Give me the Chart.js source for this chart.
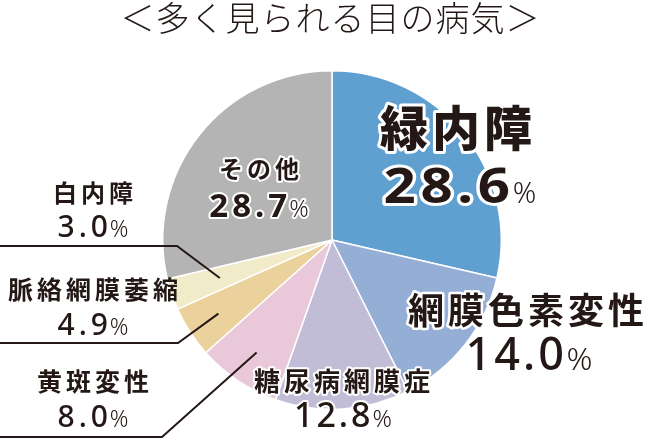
<!DOCTYPE html>
<html>
<head>
<meta charset="utf-8">
<script src="https://cdn.jsdelivr.net/npm/chart.js@4"></script>
<style>
  html, body { margin: 0; padding: 0; background: #fff; }
  canvas { display: block; }
</style>
</head>
<body>
<canvas id="myChart" width="656" height="445"></canvas>
<script>
// データ
const labels = ["緑内障", "網膜色素変性", "糖尿病網膜症", "黄斑変性", "脈絡網膜萎縮", "白内障", "その他"];
const values = [28.6, 14.0, 12.8, 8.0, 4.9, 3.0, 28.7];
const colors = ["#5fa0d1", "#94aed5", "#c2bdd7", "#e9c9d9", "#ebd19c", "#f1ebc9", "#b4b4b4"];

const INK = "#231815";
const JP = '"Noto Sans CJK JP", "Noto Sans", sans-serif';
const NUM = '"Noto Sans", "Noto Sans CJK JP", sans-serif';

function text(ctx, str, x, y, size, weight, spacing, outline) {
  ctx.save();
  ctx.font = weight + " " + size + "px " + JP;
  ctx.letterSpacing = spacing + "px";
  ctx.textAlign = "left";
  ctx.textBaseline = "middle";
  const w = ctx.measureText(str).width - spacing;
  const x0 = x - w / 2;
  if (outline) {
    ctx.lineJoin = "round";
    ctx.strokeStyle = "#fff";
    ctx.lineWidth = outline;
    ctx.strokeText(str, x0, y);
  }
  ctx.fillStyle = INK;
  ctx.fillText(str, x0, y);
  ctx.restore();
}

// 数字 + 小さい「%」
function pct(ctx, val, x, base, size, weight, spacing, sx, pratio, outline) {
  ctx.save();
  const num = val.toFixed(1);
  const psize = Math.round(size * pratio);
  ctx.letterSpacing = spacing + "px";
  ctx.font = weight + " " + size + "px " + NUM;
  const w1 = (ctx.measureText(num).width - spacing) * sx;
  const gap = size * 0.06;
  ctx.font = "300 " + psize + "px " + NUM;
  const w2 = ctx.measureText("%").width - spacing;
  const x0 = x - (w1 + gap + w2) / 2;
  ctx.textBaseline = "alphabetic";
  ctx.lineJoin = "round";
  ctx.strokeStyle = "#fff";
  ctx.lineWidth = outline || 0;
  ctx.fillStyle = INK;

  ctx.save();
  ctx.translate(x0, base);
  ctx.scale(sx, 1);
  ctx.font = weight + " " + size + "px " + NUM;
  if (outline) ctx.strokeText(num, 0, 0);
  ctx.fillText(num, 0, 0);
  ctx.restore();

  ctx.font = "300 " + psize + "px " + NUM;
  if (outline) ctx.strokeText("%", x0 + w1 + gap, base);
  ctx.fillText("%", x0 + w1 + gap, base);
  ctx.restore();
}

const labelPlugin = {
  id: "labels",
  afterDraw(chart) {
    const ctx = chart.ctx;
    const arcs = chart.getDatasetMeta(0).data;

    // タイトル
    text(ctx, "＜多く見られる目の病気＞", 330, 18, 34, 300, 1, 0);

    // 引き出し線
    function leader(i, y, xBend, frac) {
      const a = arcs[i];
      const mid = (a.startAngle + a.endAngle) / 2;
      const r = a.outerRadius * frac;
      ctx.save();
      ctx.strokeStyle = INK;
      ctx.lineWidth = 2;
      ctx.beginPath();
      ctx.moveTo(0, y);
      ctx.lineTo(xBend, y);
      ctx.lineTo(a.x + Math.cos(mid) * r, a.y + Math.sin(mid) * r);
      ctx.stroke();
      ctx.restore();
    }
    leader(5, 246, 177, 0.7);
    leader(4, 343, 178, 0.8);
    leader(3, 437, 162, 0.8);

    // ラベル
    text(ctx, labels[0], 456, 128, 48, 900, 4, 6);
    pct(ctx, values[0], 460, 203, 49, 700, 4, 1.15, 0.6, 6);

    text(ctx, labels[1], 526, 310, 36, 700, 4, 5);
    pct(ctx, values[1], 529, 370, 45, 500, 3, 1, 0.72, 5);

    text(ctx, labels[2], 342, 381, 26, 700, 4, 4);
    pct(ctx, values[2], 343, 427, 34, 500, 3, 1, 0.72, 4);

    text(ctx, labels[6], 259, 169, 24, 700, 4, 4);
    pct(ctx, values[6], 259, 217, 33, 700, 4, 1, 0.72, 4);

    text(ctx, labels[5], 93, 193, 24, 700, 4, 0);
    pct(ctx, values[5], 93, 237, 30, 500, 4, 1, 0.75, 0);

    text(ctx, labels[4], 93, 289, 25, 700, 4, 0);
    pct(ctx, values[4], 93, 335, 30, 500, 4, 1, 0.75, 0);

    text(ctx, labels[3], 93, 381, 25, 700, 4, 0);
    pct(ctx, values[3], 93, 427, 30, 500, 4, 1, 0.75, 0);
  }
};

const ctx = document.getElementById("myChart").getContext("2d");
const myChart = new Chart(ctx, {
  type: "pie",
  data: {
    labels: labels,
    datasets: [{
      data: values,
      backgroundColor: colors,
      borderColor: "#fff",
      borderWidth: 1.5
    }]
  },
  options: {
    responsive: false,
    animation: false,
    layout: { padding: { left: 162, right: 154, top: 70, bottom: 35 } },
    plugins: {
      legend: { display: false },
      tooltip: { enabled: false }
    }
  },
  plugins: [labelPlugin]
});
</script>
</body>
</html>
